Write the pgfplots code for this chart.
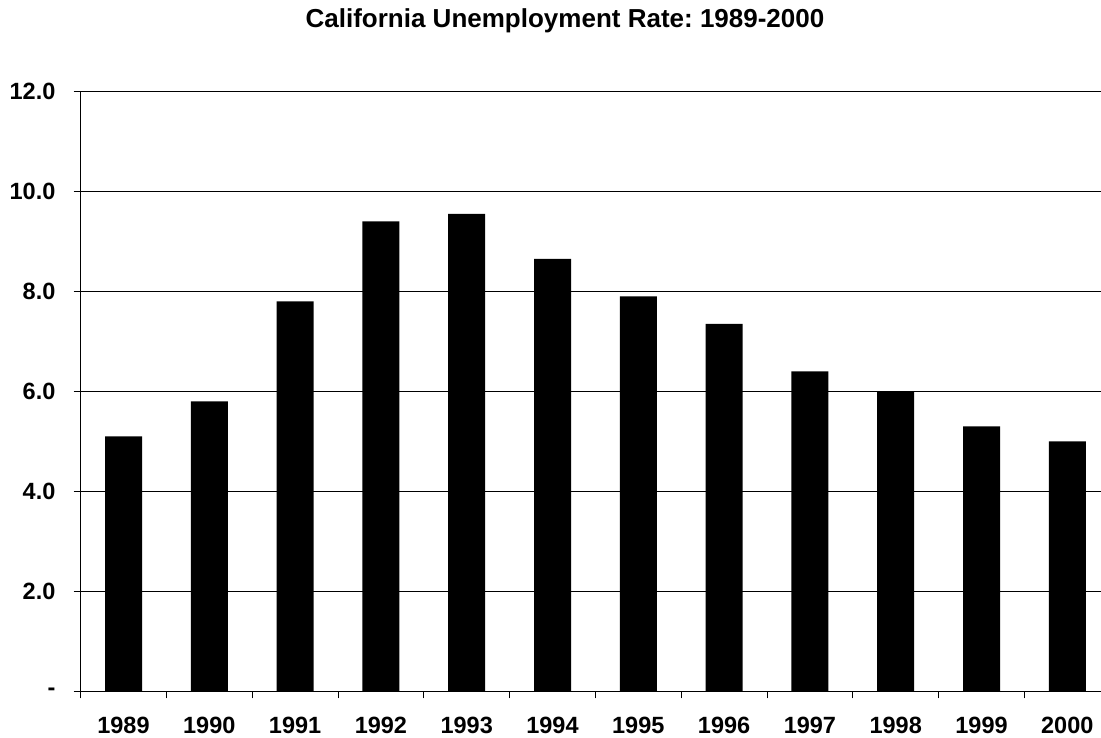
\documentclass[border=0pt]{standalone}
\usepackage{fontspec}
\setmainfont{Liberation Sans}
\usepackage{pgfplots}
\pgfplotsset{compat=1.18}
\frenchspacing

\begin{document}
\begin{tikzpicture}[x=1bp,y=1bp]
\useasboundingbox (0,0) rectangle (1101,738);
\node[anchor=base, font=\fontsize{26bp}{30bp}\selectfont\bfseries] at (565,710)
  {California Unemployment Rate: 1989-2000};
\begin{axis}[
    at={(80.6bp,46.5bp)}, anchor=south west,
    scale only axis, width=1029.6bp, height=600bp,
    xmin=-0.5, xmax=11.5, ymin=0, ymax=12,
    axis x line*=bottom, axis y line*=left,
    axis line style={black, line width=1bp, -},
    tick align=outside, major tick length=7bp,
    tick style={black, line width=1bp},
    xtick={-0.5,0.5,...,11.5},
    x tick label as interval,
    xticklabels={1989,1990,1991,1992,1993,1994,1995,1996,1997,1998,1999,2000},
    ytick={0,2,...,12},
    yticklabels={-,2.0,4.0,6.0,8.0,10.0,12.0},
    ymajorgrids, major grid style={black, line width=1bp},
    /pgf/number format/assume math mode=true,
    ticklabel style={font=\fontsize{23.5bp}{28bp}\selectfont\bfseries},
    yticklabel style={anchor=east, inner sep=0pt, xshift=-18bp},
    xticklabel style={anchor=north, inner sep=0pt, yshift=-18bp},
]
\addplot[ybar, bar width=37bp, fill=black, draw=none] coordinates {
    (0,5.1) (1,5.8) (2,7.8) (3,9.4) (4,9.55) (5,8.65)
    (6,7.9) (7,7.35) (8,6.4) (9,6.0) (10,5.3) (11,5.0)
};
\end{axis}
\end{tikzpicture}
\end{document}
